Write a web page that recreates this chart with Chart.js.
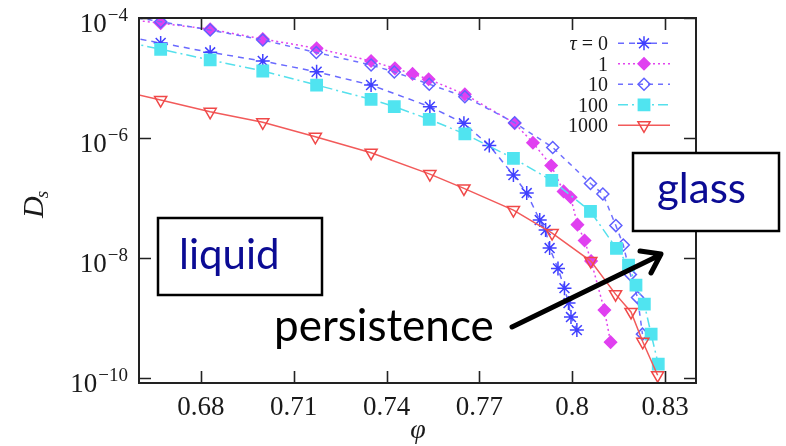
<!DOCTYPE html>
<html>
<head>
<meta charset="utf-8">
<script src="https://cdn.jsdelivr.net/npm/chart.js@4.4.1/dist/chart.umd.min.js"></script>
<style>
  html, body { margin: 0; padding: 0; background: #fff; }
  #wrap { width: 786px; height: 446px; position: relative; }
</style>
</head>
<body>
<div id="wrap"><canvas id="dsChart" width="786" height="446"></canvas></div>
<script>
// D_s vs packing fraction, one pair of arrays per persistence time tau
const tauLabels = ["0", "1", "10", "100", "1000"];

const phiTau0 = [0.65, 0.667, 0.683, 0.700, 0.7174, 0.735, 0.754, 0.765, 0.7732, 0.781, 0.7853, 0.7895, 0.7914, 0.7927, 0.7954, 0.7975, 0.7988, 0.7996, 0.8015];
const dsTau0  = [5.56e-5, 3.83e-5, 2.68e-5, 1.92e-5, 1.27e-5, 7.64e-6, 3.33e-6, 1.76e-6, 7.5e-7, 2.42e-7, 1.21e-7, 4.3e-8, 2.93e-8, 1.47e-8, 6.73e-9, 3.16e-9, 1.78e-9, 1.04e-9, 6.31e-10];

const phiTau1 = [0.65, 0.667, 0.683, 0.700, 0.7174, 0.735, 0.7427, 0.7484, 0.7536, 0.7653, 0.7814, 0.7873, 0.7932, 0.7972, 0.7995, 0.8017, 0.804, 0.8061, 0.8104, 0.8124];
const dsTau1  = [1.04e-4, 8.17e-5, 6.49e-5, 4.47e-5, 3.13e-5, 1.92e-5, 1.45e-5, 1.17e-5, 9.55e-6, 5.35e-6, 1.76e-6, 8.36e-7, 3.48e-7, 1.29e-7, 1.03e-7, 3.61e-8, 1.96e-8, 8.91e-9, 1.36e-9, 3.98e-10];

const phiTau10 = [0.65, 0.667, 0.683, 0.700, 0.7173, 0.735, 0.7425, 0.7538, 0.7653, 0.7814, 0.7937, 0.8059, 0.8099, 0.8141, 0.8165, 0.8188, 0.8211, 0.8227];
const dsTau10  = [1.21e-4, 8.67e-5, 6.31e-5, 4.30e-5, 2.66e-5, 1.65e-5, 1.26e-5, 7.89e-6, 4.88e-6, 1.80e-6, 6.95e-7, 1.75e-7, 1.17e-7, 3.48e-8, 1.65e-8, 5.31e-9, 2.2e-9, 5.41e-10];

const phiTau100 = [0.65, 0.667, 0.683, 0.700, 0.7174, 0.735, 0.7425, 0.7538, 0.7653, 0.781, 0.7934, 0.8059, 0.8143, 0.8182, 0.8206, 0.8233, 0.8255, 0.8278];
const dsTau100  = [4.62e-5, 3.01e-5, 2.0e-5, 1.31e-5, 7.64e-6, 4.42e-6, 3.33e-6, 2.05e-6, 1.17e-6, 4.59e-7, 1.97e-7, 6.0e-8, 1.45e-8, 7.64e-9, 3.55e-9, 1.71e-9, 5.41e-10, 1.71e-10];

const phiTau1000 = [0.65, 0.667, 0.683, 0.700, 0.717, 0.735, 0.754, 0.765, 0.781, 0.7935, 0.806, 0.814, 0.819, 0.8228, 0.8276];
const dsTau1000  = [6.87e-6, 4.30e-6, 2.74e-6, 1.83e-6, 1.05e-6, 5.69e-7, 2.51e-7, 1.45e-7, 6.31e-8, 2.61e-8, 8.91e-9, 2.51e-9, 1.27e-9, 4.03e-10, 1.12e-10];

const xTicks = [0.68, 0.71, 0.74, 0.77, 0.8, 0.83];
const xTickLabels = ["0.68", "0.71", "0.74", "0.77", "0.8", "0.83"];
const yTicks = [1e-4, 1e-6, 1e-8, 1e-10];
const yTickExps = ["\u22124", "\u22126", "\u22128", "\u221210"];

const SERIF = '"Liberation Serif", "DejaVu Serif", serif';
const SANS = 'Lato, "Open Sans", sans-serif';

function pairs(xs, ys) {
  return xs.map((x, i) => ({ x: x, y: ys[i] }));
}

const seriesStyles = [
  { color: "#6a6aff", point: "#4040ff", dash: [6, 5], style: "star", radius: 7, fill: false, rot: 0 },
  { color: "#e244ee", point: "#e040f0", dash: [2, 3], style: "rectRot", radius: 6, fill: true, rot: 0 },
  { color: "#7070ff", point: "#6060ff", dash: [5, 5], style: "rectRot", radius: 6, fill: false, rot: 0 },
  { color: "#55e0ec", point: "#50e4f0", dash: [10, 4, 2, 4], style: "rect", radius: 8, fill: true, rot: 0 },
  { color: "#f25a5a", point: "#f04848", dash: [], style: "triangle", radius: 7, fill: false, rot: 180 }
];
const seriesData = [
  pairs(phiTau0, dsTau0),
  pairs(phiTau1, dsTau1),
  pairs(phiTau10, dsTau10),
  pairs(phiTau100, dsTau100),
  pairs(phiTau1000, dsTau1000)
];

const datasets = seriesData.map((d, i) => {
  const s = seriesStyles[i];
  return {
    label: "\u03c4 = " + tauLabels[i],
    data: d,
    borderColor: s.color,
    borderWidth: 1.5,
    borderDash: s.dash,
    pointStyle: s.style,
    pointRadius: s.radius,
    pointRotation: s.rot,
    pointBorderColor: s.point,
    pointBackgroundColor: s.fill ? s.point : "rgba(0,0,0,0)",
    pointBorderWidth: 1.5,
    tension: 0,
    order: 4 - i
  };
});

const axisDecor = {
  id: "axisDecor",
  beforeDraw(chart) {
    const ctx = chart.ctx;
    ctx.save();
    ctx.fillStyle = "#fff";
    ctx.fillRect(0, 0, chart.width, chart.height);
    ctx.restore();
  },
  afterDatasetsDraw(chart) {
    const ctx = chart.ctx;
    const a = chart.chartArea;
    const xs = chart.scales.x, ys = chart.scales.y;
    ctx.save();
    ctx.strokeStyle = "#222";
    ctx.lineWidth = 2;
    ctx.setLineDash([]);
    ctx.strokeRect(a.left, a.top, a.right - a.left, a.bottom - a.top);

    // inward ticks on all four sides
    ctx.lineWidth = 1.6;
    ctx.beginPath();
    xTicks.forEach(v => {
      const px = Math.round(xs.getPixelForValue(v)) + 0.5;
      ctx.moveTo(px, a.bottom); ctx.lineTo(px, a.bottom - 12);
      ctx.moveTo(px, a.top); ctx.lineTo(px, a.top + 12);
    });
    yTicks.forEach(v => {
      const py = Math.round(ys.getPixelForValue(v)) + 0.5;
      ctx.moveTo(a.left, py); ctx.lineTo(a.left + 12, py);
      ctx.moveTo(a.right, py); ctx.lineTo(a.right - 12, py);
    });
    ctx.stroke();

    // tick labels
    ctx.fillStyle = "#1a1a1a";
    ctx.textBaseline = "alphabetic";
    ctx.font = "27px " + SERIF;
    ctx.textAlign = "center";
    xTicks.forEach((v, i) => {
      ctx.fillText(xTickLabels[i], xs.getPixelForValue(v), 415);
    });
    yTicks.forEach((v, i) => {
      const py = ys.getPixelForValue(v);
      ctx.font = "19px " + SERIF;
      const wExp = ctx.measureText(yTickExps[i]).width;
      ctx.textAlign = "right";
      ctx.fillText(yTickExps[i], 128, py + 3);
      ctx.font = "27px " + SERIF;
      ctx.fillText("10", 128 - wExp - 1, py + 13.5);
    });

    // axis titles
    ctx.textAlign = "center";
    ctx.font = "italic 28px " + SERIF;
    ctx.fillText("\u03c6", 418, 438);

    ctx.save();
    ctx.translate(43, 218);
    ctx.rotate(-Math.PI / 2);
    ctx.textAlign = "left";
    ctx.font = "italic 30px " + SERIF;
    ctx.fillText("D", 0, 0);
    const wD = ctx.measureText("D").width;
    ctx.font = "italic 19px " + SERIF;
    ctx.fillText("s", wD - 2, 5);
    ctx.restore();

    // key, gnuplot style: label on the left, sample on the right
    chart.data.datasets.forEach((ds, i) => {
      const y = 43.3 + i * 20.5;
      ctx.font = "20px " + SERIF;
      ctx.textAlign = "right";
      ctx.fillStyle = "#1a1a1a";
      if (i === 0) {
        const rest = " = " + tauLabels[i];
        ctx.fillText(rest, 608, y + 7);
        const wr = ctx.measureText(rest).width;
        ctx.font = "italic 20px " + SERIF;
        ctx.fillText("\u03c4", 608 - wr, y + 7);
      } else {
        ctx.fillText(tauLabels[i], 608, y + 7);
      }
      ctx.strokeStyle = ds.borderColor;
      ctx.lineWidth = ds.borderWidth;
      ctx.setLineDash(ds.borderDash);
      ctx.beginPath();
      ctx.moveTo(618, y); ctx.lineTo(670, y);
      ctx.stroke();
      ctx.setLineDash([]);
      ctx.strokeStyle = ds.pointBorderColor;
      ctx.fillStyle = ds.pointBackgroundColor;
      ctx.lineWidth = ds.pointBorderWidth;
      Chart.helpers.drawPoint(ctx, {
        pointStyle: ds.pointStyle,
        radius: ds.pointRadius,
        rotation: ds.pointRotation,
        borderWidth: ds.pointBorderWidth
      }, 644, y);
    });
    ctx.restore();
  },
  afterDraw(chart) {
    const ctx = chart.ctx;
    ctx.save();
    ctx.setLineDash([]);
    // "liquid" box
    ctx.fillStyle = "#fff";
    ctx.fillRect(158, 218, 164, 77);
    ctx.strokeStyle = "#000";
    ctx.lineWidth = 2.5;
    ctx.strokeRect(158, 218, 164, 77);
    ctx.fillStyle = "#0b0b94";
    ctx.font = "42px " + SANS;
    ctx.textAlign = "left";
    ctx.textBaseline = "alphabetic";
    ctx.fillText("liquid", 179, 269);

    // "glass" box
    ctx.fillStyle = "#fff";
    ctx.fillRect(633, 153, 146, 78);
    ctx.strokeRect(633, 153, 146, 78);
    ctx.fillStyle = "#0b0b94";
    ctx.fillText("glass", 657, 203);

    // persistence arrow
    ctx.fillStyle = "#000";
    ctx.font = "44px " + SANS;
    ctx.fillText("persistence", 274, 341);
    ctx.strokeStyle = "#000";
    ctx.lineWidth = 5;
    ctx.lineCap = "round";
    ctx.lineJoin = "round";
    ctx.beginPath();
    ctx.moveTo(512, 327);
    ctx.lineTo(660, 255);
    ctx.moveTo(640, 251);
    ctx.lineTo(661, 254);
    ctx.lineTo(651, 273);
    ctx.stroke();
    ctx.restore();
  }
};

document.addEventListener("DOMContentLoaded", function () {
  const ctx = document.getElementById("dsChart").getContext("2d");
  new Chart(ctx, {
    type: "line",
    data: { datasets: datasets },
    options: {
      responsive: false,
      animation: false,
      devicePixelRatio: 1,
      layout: { padding: { left: 139, top: 18, right: 90, bottom: 63 } },
      plugins: { legend: { display: false }, tooltip: { enabled: false } },
      scales: {
        x: { type: "linear", min: 0.66, max: 0.84, display: false },
        y: { type: "logarithmic", min: 8.3e-11, max: 1e-4, display: false }
      }
    },
    plugins: [axisDecor]
  });
});
</script>
</body>
</html>
